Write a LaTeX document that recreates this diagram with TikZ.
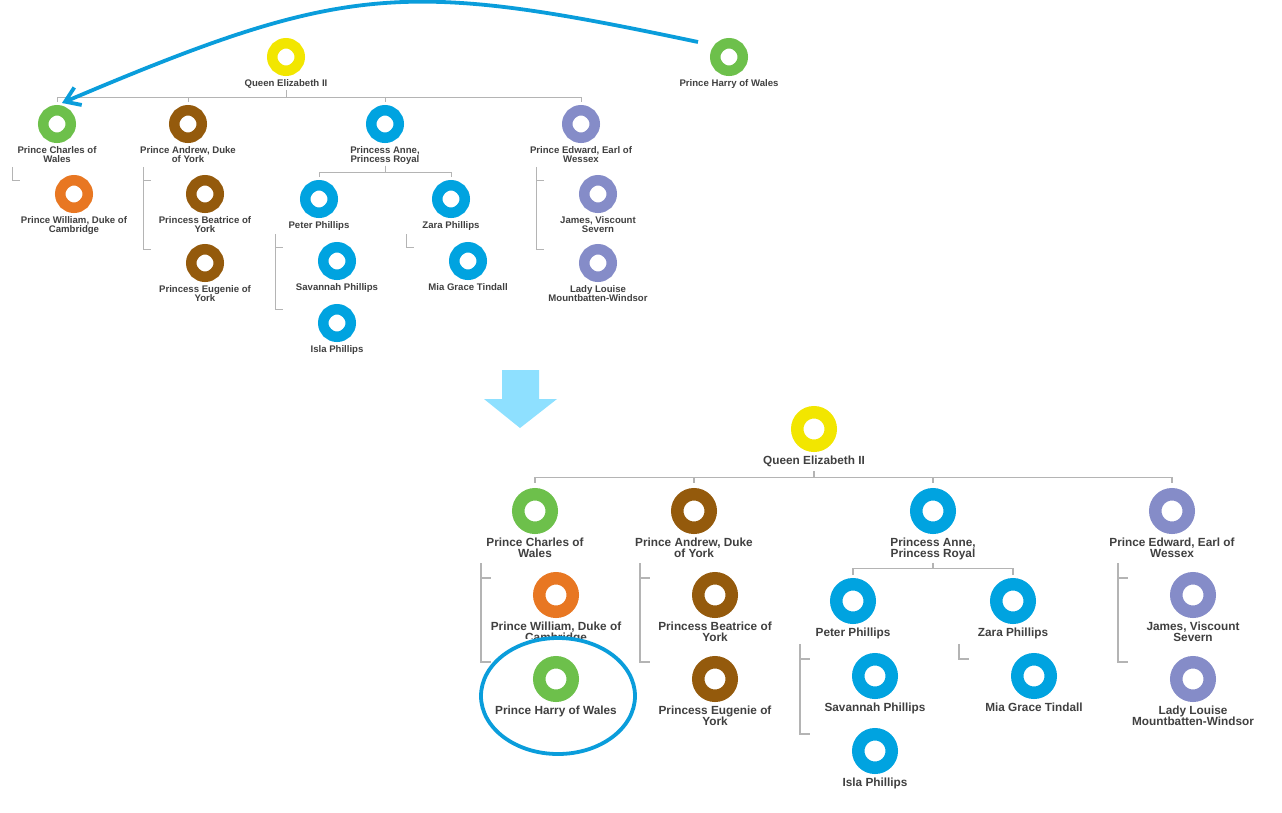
\documentclass[tikz,border=0pt]{standalone}
\usepackage{fontspec}
\setmainfont{Liberation Sans}
\usepackage{tikz}
\usetikzlibrary{positioning,arrows.meta}
\definecolor{ringyellow}{HTML}{F2E600}
\definecolor{ringgreen}{HTML}{6DC04B}
\definecolor{ringorange}{HTML}{E87722}
\definecolor{ringbrown}{HTML}{945A0C}
\definecolor{ringblue}{HTML}{00A3E0}
\definecolor{ringlav}{HTML}{858CC8}
\definecolor{notecyan}{HTML}{0A9DDB}
\definecolor{arrowsky}{HTML}{8EE0FF}
\definecolor{linkgray}{HTML}{B4B4B4}
\definecolor{textgray}{HTML}{404040}

\begin{document}
\begin{tikzpicture}[x=1pt,y=-1pt]
  \tikzstyle{ringA} = [circle, inner sep=0pt, minimum size=27.5pt, line width=10.5pt]
  \tikzstyle{ringB} = [circle, inner sep=0pt, minimum size=33.5pt, line width=12.5pt]
  \tikzstyle{nameA} = [align=center, inner sep=0pt, text=textgray,
    font=\bfseries\fontsize{9.6}{9.3}\selectfont]
  \tikzstyle{nameB} = [align=center, inner sep=0pt, text=textgray,
    font=\bfseries\fontsize{11.8}{11.5}\selectfont]
  \tikzstyle{link} = [draw=linkgray, line width=1pt]
  \tikzstyle{link2} = [draw=linkgray, line width=1.2pt]
  \tikzstyle{note} = [draw=notecyan, line width=3.8pt]
  \useasboundingbox (0,0) rectangle (1282,812);

  % before
  \node[ringA, draw=ringyellow] (qe) at (286,57) {};
  \node[nameA, below=3pt of qe] (qe-t) {Queen Elizabeth II};
  \node[ringA, draw=ringgreen] (ha) at (729,57) {};
  \node[nameA, below=3pt of ha] (ha-t) {Prince Harry of Wales};
  \node[ringA, draw=ringgreen] (ch) at (57,124) {};
  \node[nameA, below=3pt of ch] (ch-t) {Prince Charles of\\Wales};
  \node[ringA, draw=ringbrown] (an) at (188,124) {};
  \node[nameA, below=3pt of an] (an-t) {Prince Andrew, Duke\\of York};
  \node[ringA, draw=ringblue] (pa) at (385,124) {};
  \node[nameA, below=3pt of pa] (pa-t) {Princess Anne,\\Princess Royal};
  \node[ringA, draw=ringlav] (ed) at (581,124) {};
  \node[nameA, below=3pt of ed] (ed-t) {Prince Edward, Earl of\\Wessex};
  \node[ringA, draw=ringorange] (wi) at (74,194) {};
  \node[nameA, below=3pt of wi] (wi-t) {Prince William, Duke of\\Cambridge};
  \node[ringA, draw=ringbrown] (be) at (205,194) {};
  \node[nameA, below=3pt of be] (be-t) {Princess Beatrice of\\York};
  \node[ringA, draw=ringbrown] (eu) at (205,263) {};
  \node[nameA, below=3pt of eu] (eu-t) {Princess Eugenie of\\York};
  \node[ringA, draw=ringblue] (pe) at (319,199) {};
  \node[nameA, below=3pt of pe] (pe-t) {Peter Phillips};
  \node[ringA, draw=ringblue] (za) at (451,199) {};
  \node[nameA, below=3pt of za] (za-t) {Zara Phillips};
  \node[ringA, draw=ringblue] (sa) at (337,261) {};
  \node[nameA, below=3pt of sa] (sa-t) {Savannah Phillips};
  \node[ringA, draw=ringblue] (is) at (337,323) {};
  \node[nameA, below=3pt of is] (is-t) {Isla Phillips};
  \node[ringA, draw=ringblue] (mi) at (468,261) {};
  \node[nameA, below=3pt of mi] (mi-t) {Mia Grace Tindall};
  \node[ringA, draw=ringlav] (ja) at (598,194) {};
  \node[nameA, below=3pt of ja] (ja-t) {James, Viscount\\Severn};
  \node[ringA, draw=ringlav] (lo) at (598,263) {};
  \node[nameA, below=3pt of lo] (lo-t) {Lady Louise\\Mountbatten-Windsor};

  \foreach \c in {ch,an,pa,ed}
    \draw[link, shorten >=3pt] (qe-t.south) ++(0,2) -- ++(0,7) -| (\c.north);
  \foreach \c in {pe,za}
    \draw[link, shorten >=3pt] (pa-t.south) ++(0,1) -- ++(0,7) -| (\c.north);
  \foreach \c in {wi,be,eu,sa,is,mi,ja,lo}
    \coordinate (\c-k) at ([xshift=-62pt,yshift=-5.5pt]\c.north);
  \draw[link, shorten <=4pt] (ch-t.south -| wi-k) -- (wi-k) -- ++(7.5,0);
  \draw[link, shorten <=4pt] (an-t.south -| eu-k) -- (eu-k) -- ++(7.5,0);
  \draw[link] (be-k) -- ++(7.5,0);
  \draw[link, shorten <=4pt] (pe-t.south -| is-k) -- (is-k) -- ++(7.5,0);
  \draw[link] (sa-k) -- ++(7.5,0);
  \draw[link, shorten <=4pt] (za-t.south -| mi-k) -- (mi-k) -- ++(7.5,0);
  \draw[link, shorten <=4pt] (ed-t.south -| lo-k) -- (lo-k) -- ++(7.5,0);
  \draw[link] (ja-k) -- ++(7.5,0);

  \draw[note, -{Straight Barb[length=14pt,width=19pt]}]
    ([xshift=-31pt,yshift=15pt]ha.center) .. controls +(-294,-62) and +(285,-121)
    .. ([xshift=5pt,yshift=2pt]ch.north);

  \fill[arrowsky] (502,370) -- (539,370) -- (539,399) -- (557,399) -- (520,428)
    -- (484,399) -- (502,399) -- cycle;

  % after
  \node[ringB, draw=ringyellow] (qe2) at (814,429) {};
  \node[nameB, below=3.5pt of qe2] (qe2-t) {Queen Elizabeth II};
  \node[ringB, draw=ringgreen] (ch2) at (535,511) {};
  \node[nameB, below=3.5pt of ch2] (ch2-t) {Prince Charles of\\Wales};
  \node[ringB, draw=ringbrown] (an2) at (694,511) {};
  \node[nameB, below=3.5pt of an2] (an2-t) {Prince Andrew, Duke\\of York};
  \node[ringB, draw=ringblue] (pa2) at (933,511) {};
  \node[nameB, below=3.5pt of pa2] (pa2-t) {Princess Anne,\\Princess Royal};
  \node[ringB, draw=ringlav] (ed2) at (1172,511) {};
  \node[nameB, below=3.5pt of ed2] (ed2-t) {Prince Edward, Earl of\\Wessex};
  \node[ringB, draw=ringorange] (wi2) at (556,595) {};
  \node[nameB, below=3.5pt of wi2] (wi2-t) {Prince William, Duke of\\Cambridge};
  \fill[white] (492,639) rectangle (622,725);
  \node[ringB, draw=ringgreen] (ha2) at (556,679) {};
  \node[nameB, below=3.5pt of ha2] (ha2-t) {Prince Harry of Wales};
  \node[ringB, draw=ringbrown] (be2) at (715,595) {};
  \node[nameB, below=3.5pt of be2] (be2-t) {Princess Beatrice of\\York};
  \node[ringB, draw=ringbrown] (eu2) at (715,679) {};
  \node[nameB, below=3.5pt of eu2] (eu2-t) {Princess Eugenie of\\York};
  \node[ringB, draw=ringblue] (pe2) at (853,601) {};
  \node[nameB, below=3.5pt of pe2] (pe2-t) {Peter Phillips};
  \node[ringB, draw=ringblue] (za2) at (1013,601) {};
  \node[nameB, below=3.5pt of za2] (za2-t) {Zara Phillips};
  \node[ringB, draw=ringblue] (sa2) at (875,676) {};
  \node[nameB, below=3.5pt of sa2] (sa2-t) {Savannah Phillips};
  \node[ringB, draw=ringblue] (is2) at (875,751) {};
  \node[nameB, below=3.5pt of is2] (is2-t) {Isla Phillips};
  \node[ringB, draw=ringblue] (mi2) at (1034,676) {};
  \node[nameB, below=3.5pt of mi2] (mi2-t) {Mia Grace Tindall};
  \node[ringB, draw=ringlav] (ja2) at (1193,595) {};
  \node[nameB, below=3.5pt of ja2] (ja2-t) {James, Viscount\\Severn};
  \node[ringB, draw=ringlav] (lo2) at (1193,679) {};
  \node[nameB, below=3.5pt of lo2] (lo2-t) {Lady Louise\\Mountbatten-Windsor};

  \foreach \c in {ch2,an2,pa2,ed2}
    \draw[link2, shorten >=5pt] (qe2-t.south) ++(0,4.5) -- ++(0,6) -| (\c.north);
  \foreach \c in {pe2,za2}
    \draw[link2, shorten >=3pt] (pa2-t.south) ++(0,2.5) -- ++(0,5.5) -| (\c.north);
  \foreach \c in {wi2,ha2,be2,eu2,sa2,is2,mi2,ja2,lo2}
    \coordinate (\c-k) at ([xshift=-75pt,yshift=-6pt]\c.north);
  \draw[link2, shorten <=5pt] (ch2-t.south -| ha2-k) -- (ha2-k) -- ++(9.5,0);
  \draw[link2] (wi2-k) -- ++(9.5,0);
  \draw[link2, shorten <=5pt] (an2-t.south -| eu2-k) -- (eu2-k) -- ++(9.5,0);
  \draw[link2] (be2-k) -- ++(9.5,0);
  \draw[link2, shorten <=5pt] (pe2-t.south -| is2-k) -- (is2-k) -- ++(9.5,0);
  \draw[link2] (sa2-k) -- ++(9.5,0);
  \draw[link2, shorten <=5pt] (za2-t.south -| mi2-k) -- (mi2-k) -- ++(9.5,0);
  \draw[link2, shorten <=5pt] (ed2-t.south -| lo2-k) -- (lo2-k) -- ++(9.5,0);
  \draw[link2] (ja2-k) -- ++(9.5,0);

  \draw[note] (ha2) ++(2,17) ellipse [x radius=77pt, y radius=58pt];
\end{tikzpicture}
\end{document}
